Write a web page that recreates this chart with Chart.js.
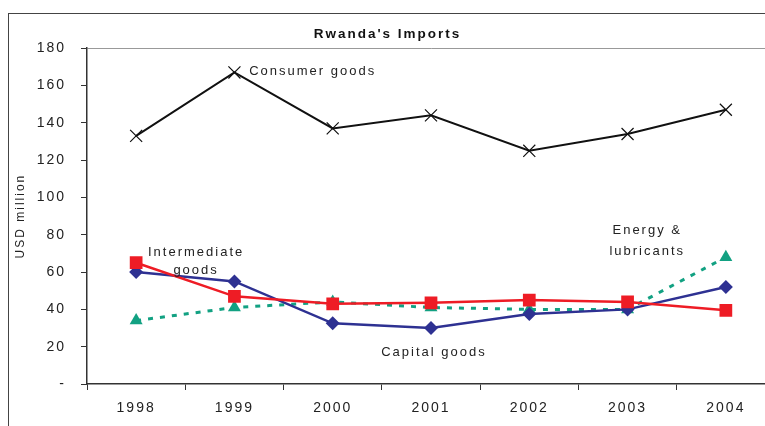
<!DOCTYPE html>
<html>
<head>
<meta charset="utf-8">
<script src="https://cdn.jsdelivr.net/npm/chart.js@4/dist/chart.umd.min.js"></script>
<style>
  html, body { margin:0; padding:0; background:#fff; overflow:hidden; width:765px; height:426px; }
  #frame { position:absolute; left:8px; top:13px; width:820px; height:500px; border:1.5px solid #444; }
  #wrap { position:absolute; left:0; top:0; width:790px; height:426px; }
</style>
</head>
<body>
<div id="frame"></div>
<div id="wrap"><canvas id="chart" width="790" height="426"></canvas></div>
<script>
// datos (USD millones)
const years = ['1998','1999','2000','2001','2002','2003','2004'];
const consumer = [133, 167, 137, 144, 125, 134, 147];
const intermediate = [65, 47, 43, 43.5, 45, 44, 39.5];
const capital = [60, 55, 32.5, 30, 37.5, 40, 52];
const energy = [34, 41, 44, 41, 40, 40, 68];
const yTicks = [0, 20, 40, 60, 80, 100, 120, 140, 160, 180];

// etiquetas dentro del gráfico: [texto, índice categoría, valor, alineación]
const notes = [
  ['Consumer goods', 1.15, 167.5, 'left'],
  ['Intermediate', 0.61, 70.5, 'center'],
  ['goods', 0.61, 61, 'center'],
  ['Capital goods', 3.03, 17, 'center'],
  ['Energy &', 5.2, 82.5, 'center'],
  ['lubricants', 5.2, 71, 'center']
];

const FONT = "'Liberation Sans', Arial, sans-serif";
const SPACING = '2px';

const spacingPlugin = {
  id:'spacing',
  beforeLayout(chart){ chart.ctx.letterSpacing = SPACING; },
  beforeDraw(chart){ chart.ctx.letterSpacing = SPACING; }
};

const notesPlugin = {
  id:'notes',
  afterDatasetsDraw(chart){
    const ctx = chart.ctx, xs = chart.scales.x, ys = chart.scales.y;
    ctx.save();
    ctx.letterSpacing = SPACING;
    ctx.font = '13px ' + FONT;
    ctx.fillStyle = '#222';
    ctx.textBaseline = 'middle';
    notes.forEach(n=>{
      ctx.textAlign = n[3];
      ctx.fillText(n[0], xs.getPixelForValue(n[1]), ys.getPixelForValue(n[2]));
    });
    ctx.restore();
  }
};

new Chart(document.getElementById('chart'),{
  type:'line',
  data:{
    labels: years,
    datasets:[
      { label:'Consumer goods', data:consumer, borderColor:'#111', backgroundColor:'#111',
        borderWidth:2, pointStyle:'crossRot', pointRadius:8.5, pointBorderWidth:1.2, tension:0 },
      { label:'Intermediate goods', data:intermediate, borderColor:'#ee1c25', backgroundColor:'#ee1c25',
        borderWidth:2.5, pointStyle:'rect', pointRadius:9, pointBorderWidth:0, tension:0 },
      { label:'Capital goods', data:capital, borderColor:'#2e3192', backgroundColor:'#2e3192',
        borderWidth:2.5, pointStyle:'rectRot', pointRadius:7, pointBorderWidth:0, tension:0 },
      { label:'Energy & lubricants', data:energy, borderColor:'#12a182', backgroundColor:'#12a182',
        borderWidth:3, borderDash:[5,7], pointStyle:'triangle', pointRadius:7.5, pointBorderWidth:0, tension:0 }
    ]
  },
  options:{
    responsive:false,
    animation:false,
    layout:{ padding:{ left:0, right:15, top:0, bottom:0 } },
    plugins:{
      legend:{ display:false },
      tooltip:{ enabled:false },
      title:{ display:true, text:"Rwanda's Imports", color:'#111',
        font:{ family:FONT, size:13.5, weight:'bold' }, padding:{ top:26, bottom:6 } }
    },
    scales:{
      x:{
        offset:true,
        grid:{ display:true, drawOnChartArea:false, offset:true, tickLength:6, tickColor:'#333' },
        border:{ display:true, color:'#333', width:1.5 },
        ticks:{ color:'#222', font:{ family:FONT, size:14 }, padding:10, maxRotation:0 },
        afterFit(s){ s.height = 42; }
      },
      y:{
        min:0, max:180,
        afterBuildTicks(s){ s.ticks = yTicks.map(v=>({value:v})); },
        grid:{ drawOnChartArea:true, tickLength:6, tickColor:'#333',
          color:c=> c.tick && c.tick.value===180 ? '#999' : 'rgba(0,0,0,0)' },
        border:{ display:true, color:'#333', width:1.5 },
        ticks:{ color:'#222', font:{ family:FONT, size:14 }, padding:15,
          callback:v=> v===0 ? '-' : v },
        title:{ display:true, text:'USD million', color:'#222',
          font:{ family:FONT, size:12 }, padding:{ top:13, bottom:0 } },
        afterFit(s){ s.width = 87; }
      }
    }
  },
  plugins:[spacingPlugin, notesPlugin]
});
</script>
</body>
</html>
